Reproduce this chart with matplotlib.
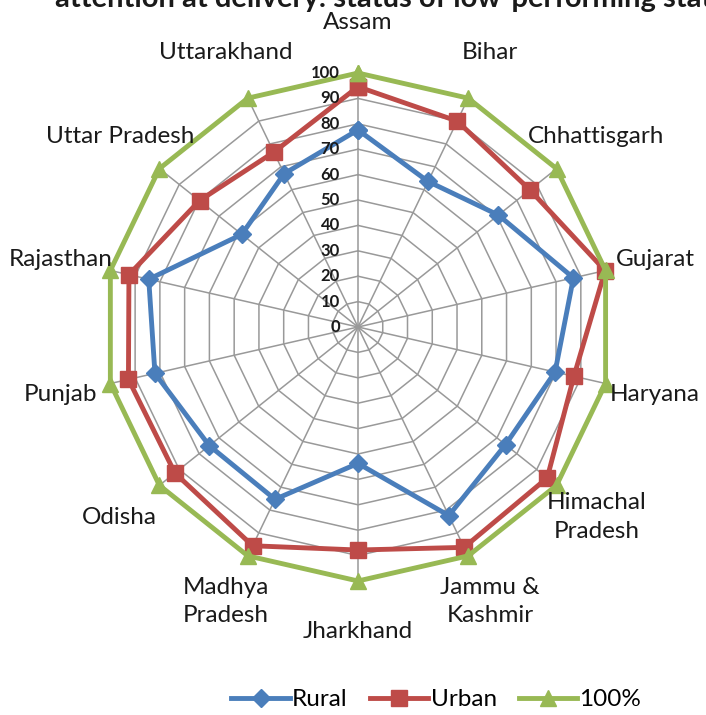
import numpy as np
import matplotlib.pyplot as plt

states = ["Assam", "Bihar", "Chhattisgarh", "Gujarat", "Haryana", "Himachal\nPradesh",
          "Jammu &\nKashmir", "Jharkhand", "Madhya\nPradesh", "Odisha", "Punjab",
          "Rajasthan", "Uttar Pradesh", "Uttarakhand"]
rural = [77.6, 63.6, 70.7, 87.0, 79.6, 74.3, 82.4, 53.7, 75.3, 74.9, 82.0, 84.5, 58.5, 67.0]
urban = [94.6, 90.0, 86.6, 99.8, 87.2, 95.3, 96.3, 87.8, 95.6, 92.2, 92.7, 92.5, 79.8, 76.4]
full = [100] * len(states)
ticks = [0, 10, 20, 30, 40, 50, 60, 70, 80, 90, 100]

plt.rcParams['font.family'] = ['Lato', 'DejaVu Sans']

fig = plt.figure(figsize=(7.06, 7.15), dpi=100)
ax = fig.add_axes([0.1473, 0.1874, 0.7195, 0.7105], projection='polar')
ax.set_theta_zero_location('N')
ax.set_theta_direction(-1)
ax.set_ylim(0, 100)
ax.grid(False)
ax.spines['polar'].set_visible(False)
ax.set_xticks([])
ax.set_yticks([])

n = len(states)
theta = np.linspace(0, 2 * np.pi, n, endpoint=False)
closed = np.append(theta, theta[0])

grid_col = '#999999'
for t in ticks[1:]:
    ax.plot(closed, [t] * (n + 1), color=grid_col, lw=1.1, zorder=1)
for th in theta:
    ax.plot([th, th], [0, 100], color=grid_col, lw=1.1, zorder=1)

def series(vals, color, marker, ms, label):
    v = list(vals) + [vals[0]]
    ax.plot(closed, v, color=color, lw=3.5, marker=marker, markersize=ms,
            markerfacecolor=color, markeredgecolor=color, label=label, zorder=3,
            clip_on=False)

series(rural, '#4a7ebb', 'D', 9.5, 'Rural')
series(urban, '#be4b48', 's', 11, 'Urban')
series(full, '#98b954', '^', 12, '100%')

for th, name in zip(theta, states):
    ax.text(th, 120, name, ha='center', va='center', fontsize=17.5,
            color='#1a1a1a', linespacing=1.45)

for t in ticks:
    ax.annotate(str(t), xy=(0, t), xytext=(-13, 0), textcoords='offset points',
                ha='right', va='center', fontsize=12, fontweight='bold',
                color='#1a1a1a', zorder=4)

fig.legend(loc='center', bbox_to_anchor=(0.618, 0.021), ncol=3, frameon=False,
           fontsize=17.5, handlelength=2.4, columnspacing=0.9, handletextpad=0.1)

fig.text(55 / 706, 1 - 7 / 715, "attention at delivery: status of low-performing states",
         ha='left', va='baseline', fontsize=21, fontweight='bold', color='#1a1a1a')

fig.savefig('out.png', dpi=100)
